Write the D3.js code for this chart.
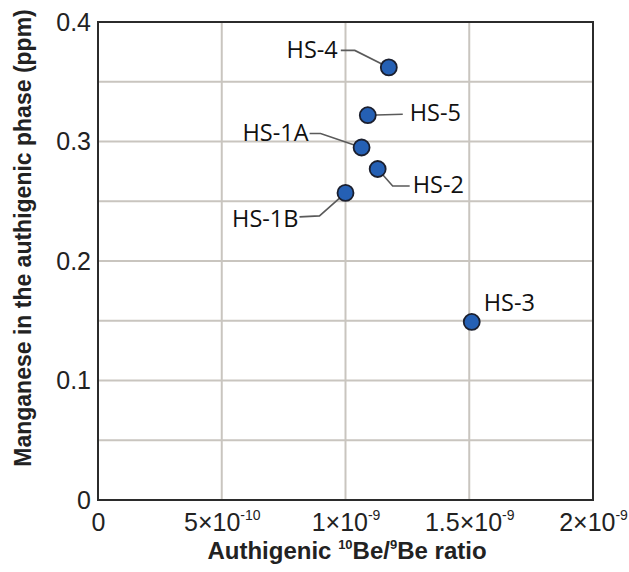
<!DOCTYPE html>
<html>
<head>
<meta charset="utf-8">
<script src="https://cdn.jsdelivr.net/npm/d3@7"></script>
<style>
  html, body { margin: 0; padding: 0; background: #fff; }
  svg { display: block; }
</style>
</head>
<body>
<svg id="chart"></svg>
<script>
// sample data
const sampleNames = ["HS-4", "HS-5", "HS-1A", "HS-2", "HS-1B", "HS-3"];
const beRatio     = [1.175e-9, 1.09e-9, 1.065e-9, 1.13e-9, 1.0e-9, 1.51e-9];
const manganese   = [0.362, 0.322, 0.295, 0.277, 0.257, 0.149];

// axis ticks
const xTicks    = [0, 5e-10, 1e-9, 1.5e-9, 2e-9];
const xTickMant = ["0", "5×10", "1×10", "1.5×10", "2×10"];
const xTickExp  = ["", "-10", "-9", "-9", "-9"];
const yTicks    = [0, 0.1, 0.2, 0.3, 0.4];
const yTickText = ["0", "0.1", "0.2", "0.3", "0.4"];
const yGrid     = [0.05, 0.1, 0.15, 0.2, 0.25, 0.3, 0.35];

// label placement (pixel offsets from the point, not data)
const labelLayout = {
  "HS-4":  { tx: -51, ty: -18, anchor: "end",   path: [[-48, -17], [-34, -17], [0, 0]] },
  "HS-5":  { tx: 42,  ty: -2,  anchor: "start", path: [[0, 0], [35, -1]] },
  "HS-1A": { tx: -53, ty: -15, anchor: "end",   path: [[-52, -14], [-41, -14], [0, 0]] },
  "HS-2":  { tx: 35,  ty: 16,  anchor: "start", path: [[0, 0], [15, 17], [32, 17]] },
  "HS-1B": { tx: -47, ty: 26,  anchor: "end",   path: [[0, 0], [-26, 23], [-46, 24]] },
  "HS-3":  { tx: 12,  ty: -19, anchor: "start", path: null }
};

const W = 629, H = 572;
const m = { left: 98, top: 22, right: 36, bottom: 72 };

const svg = d3.select("#chart").attr("width", W).attr("height", H)
  .style("font-family", "'Liberation Sans', Arial, sans-serif");

const x = d3.scaleLinear().domain([0, 2e-9]).range([m.left, W - m.right]);
const y = d3.scaleLinear().domain([0, 0.4]).range([H - m.bottom, m.top]);

// grid
svg.append("g").selectAll("line.vg")
  .data(xTicks.slice(1, -1))
  .join("line")
    .attr("x1", d => x(d)).attr("x2", d => x(d))
    .attr("y1", y(0)).attr("y2", y(0.4))
    .attr("stroke", "#c9c5bf").attr("stroke-width", 2);

svg.append("g").selectAll("line.hg")
  .data(yGrid)
  .join("line")
    .attr("x1", x(0)).attr("x2", x(2e-9))
    .attr("y1", d => y(d)).attr("y2", d => y(d))
    .attr("stroke", "#c9c5bf").attr("stroke-width", 2);

// frame
svg.append("rect")
  .attr("x", x(0)).attr("y", y(0.4))
  .attr("width", x(2e-9) - x(0)).attr("height", y(0) - y(0.4))
  .attr("fill", "none").attr("stroke", "#2b2b2b").attr("stroke-width", 2);

// x axis
const xAxis = svg.append("g")
  .attr("transform", `translate(0,${y(0)})`)
  .call(d3.axisBottom(x).tickValues(xTicks).tickSize(0).tickPadding(0).tickFormat(""));
xAxis.select(".domain").remove();
xAxis.selectAll(".tick text").each(function(d, i) {
  const t = d3.select(this)
    .attr("y", 31).attr("dy", null)
    .attr("font-size", 25).attr("fill", "#222")
    .attr("text-anchor", "middle");
  t.append("tspan").text(xTickMant[i]);
  if (xTickExp[i]) {
    t.append("tspan").attr("dy", -11).attr("font-size", 14).text(xTickExp[i]);
  }
});

// y axis
const yAxis = svg.append("g")
  .attr("transform", `translate(${x(0)},0)`)
  .call(d3.axisLeft(y).tickValues(yTicks).tickSize(0).tickPadding(7)
    .tickFormat((d, i) => yTickText[i]));
yAxis.select(".domain").remove();
yAxis.selectAll(".tick text")
  .attr("font-size", 25).attr("fill", "#222")
  .attr("font-family", "'Liberation Sans', Arial, sans-serif");

// axis titles
const xt = svg.append("text")
  .attr("x", 347).attr("y", 559)
  .attr("text-anchor", "middle")
  .attr("font-size", 24).attr("font-weight", "bold").attr("fill", "#222");
xt.append("tspan").text("Authigenic ");
xt.append("tspan").attr("font-size", 13).attr("dy", -10).text("10");
xt.append("tspan").attr("dy", 10).text("Be/");
xt.append("tspan").attr("font-size", 13).attr("dy", -10).text("9");
xt.append("tspan").attr("dy", 10).text("Be ratio");

svg.append("text")
  .attr("transform", "translate(31,238) rotate(-90)")
  .attr("text-anchor", "middle")
  .attr("font-size", 23).attr("font-weight", "bold").attr("fill", "#222")
  .text("Manganese in the authigenic phase (ppm)");

// points + labels
const pts = sampleNames.map((n, i) => ({ name: n, px: x(beRatio[i]), py: y(manganese[i]) }));

const line = d3.line();
svg.append("g").selectAll("path")
  .data(pts.filter(p => labelLayout[p.name].path))
  .join("path")
    .attr("d", p => line(labelLayout[p.name].path.map(o => [p.px + o[0], p.py + o[1]])))
    .attr("fill", "none").attr("stroke", "#5a5a5a").attr("stroke-width", 1.6);

svg.append("g").selectAll("circle")
  .data(pts)
  .join("circle")
    .attr("cx", p => p.px).attr("cy", p => p.py).attr("r", 8)
    .attr("fill", "#2560b4").attr("stroke", "#1b1f2e").attr("stroke-width", 1.8);

svg.append("g").selectAll("text")
  .data(pts)
  .join("text")
    .attr("x", p => p.px + labelLayout[p.name].tx)
    .attr("y", p => p.py + labelLayout[p.name].ty)
    .attr("dy", "0.35em")
    .attr("text-anchor", p => labelLayout[p.name].anchor)
    .attr("font-family", "'Open Sans', sans-serif")
    .attr("font-size", 23.5).attr("fill", "#111")
    .text(p => p.name);
</script>
</body>
</html>
